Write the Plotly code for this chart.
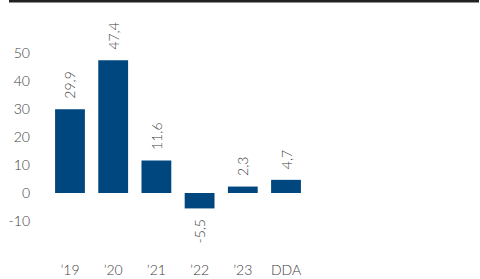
import plotly.graph_objects as go

categories = ["\u201919", "\u201920", "\u201921", "\u201922", "\u201923", "DDA"]
values = [29.9, 47.4, 11.6, -5.5, 2.3, 4.7]
value_labels = ["29,9", "47,4", "11,6", "-5,5", "2,3", "4,7"]
y_ticks = [-10, 0, 10, 20, 30, 40, 50]

FONT = "Lato, Liberation Sans, sans-serif"
TXT = dict(family=FONT, size=14, color="#3c3c3c", weight=300)

# padding between bar end and label (non-breaking spaces at the bar side)
PAD = "\u00a0\u00a0"
bar_text = [PAD + t if v >= 0 else t + PAD for t, v in zip(value_labels, values)]

W, H = 480, 279
T, B, L = 14, 21, 40
plot_h = H - T - B
plot_w = W - L

fig = go.Figure()
fig.add_trace(go.Bar(
    x=list(range(len(categories))),
    y=values,
    text=bar_text,
    textposition="outside",
    textangle=-90,
    constraintext="none",
    textfont=TXT,
    marker=dict(color="#00467F", line=dict(width=0)),
    width=0.69,
    cliponaxis=False,
))

fig.update_layout(
    template="none",
    width=W, height=H,
    margin=dict(l=L, r=0, t=T, b=B, pad=0),
    paper_bgcolor="white", plot_bgcolor="white",
    showlegend=False,
    font=TXT,
    xaxis=dict(
        range=[-0.694, 9.49],
        tickmode="array",
        tickvals=list(range(len(categories))),
        ticktext=categories,
        showgrid=False, zeroline=False, showline=False,
        ticks="", tickfont=TXT, automargin=False,
        ticklabelstandoff=2,
    ),
    yaxis=dict(
        range=[-23.2, 63.9],
        tickmode="array",
        tickvals=y_ticks,
        ticktext=[str(v) for v in y_ticks],
        showgrid=False, zeroline=False, showline=False,
        ticks="", tickfont=TXT, automargin=False,
        ticklabelstandoff=9,
    ),
    shapes=[dict(type="rect", xref="paper", yref="paper",
                 x0=(9 - L) / plot_w, x1=(479 - L) / plot_w,
                 y0=1 + (T - 2.5) / plot_h, y1=1 + T / plot_h,
                 fillcolor="#222222", line=dict(width=0))],
)

fig.write_html(
    "out.html",
    config={"displayModeBar": False},
    post_script="document.body.style.margin='0';document.body.style.padding='0';",
)
